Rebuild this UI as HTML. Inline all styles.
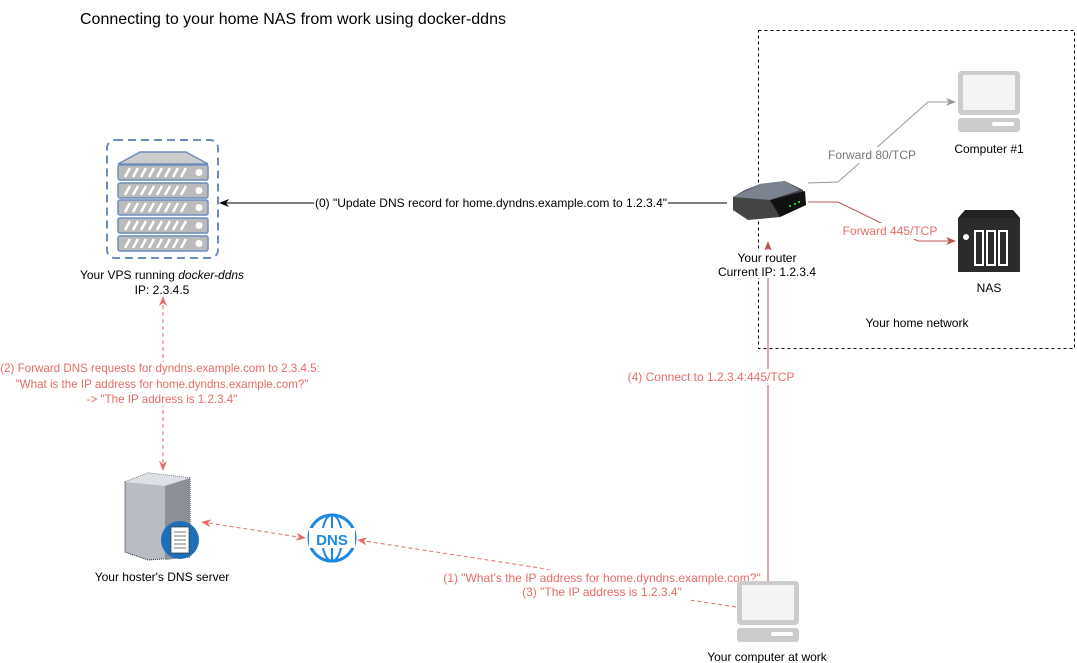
<!DOCTYPE html>
<html><head><meta charset="utf-8"><style>
html,body{margin:0;padding:0;background:#fff;}
svg{display:block;font-family:"Liberation Sans",Arial,sans-serif;}
</style></head><body>
<svg width="1077" height="663" viewBox="0 0 1077 663" xmlns="http://www.w3.org/2000/svg">
<defs>
<marker id="ab" markerWidth="10" markerHeight="10" refX="9" refY="5" orient="auto" markerUnits="userSpaceOnUse"><path d="M0,1 L10,5 L0,9 L3,5 Z" fill="#000"/></marker>
<marker id="ag" markerWidth="10" markerHeight="10" refX="9" refY="5" orient="auto" markerUnits="userSpaceOnUse"><path d="M0,1 L10,5 L0,9 L3,5 Z" fill="#999"/></marker>
<marker id="ar" markerWidth="10" markerHeight="10" refX="9" refY="5" orient="auto" markerUnits="userSpaceOnUse"><path d="M0,1 L10,5 L0,9 L3,5 Z" fill="#b85450"/></marker>
<marker id="ap" markerWidth="10" markerHeight="10" refX="9" refY="5" orient="auto" markerUnits="userSpaceOnUse"><path d="M0,1 L10,5 L0,9 L3,5 Z" fill="#EA6B66"/></marker>
<marker id="aps" markerWidth="10" markerHeight="10" refX="1" refY="5" orient="auto" markerUnits="userSpaceOnUse"><path d="M10,1 L0,5 L10,9 L7,5 Z" fill="#EA6B66"/></marker>
</defs>
<text x="80" y="24" font-size="16">Connecting to your home NAS from work using docker-ddns</text>
<rect x="758.5" y="30.5" width="316" height="318" fill="none" stroke="#000" stroke-dasharray="3,3"/>
<text x="917" y="327" font-size="12" text-anchor="middle">Your home network</text>

<!-- VPS -->
<rect x="107" y="140" width="111" height="118" rx="8" fill="none" stroke="#6c8ebf" stroke-width="2" stroke-dasharray="8,5"/>
<path d="M118,164 L140,152 L186,152 L208,164 Z" fill="#ccc" stroke="#6c8ebf" stroke-width="1.5"/>
<g fill="#bbb" stroke="#6c8ebf" stroke-width="1.5">
<rect x="118" y="165" width="90" height="15" rx="2"/>
<rect x="118" y="183" width="90" height="15" rx="2"/>
<rect x="118" y="200" width="90" height="15" rx="2"/>
<rect x="118" y="218" width="90" height="15" rx="2"/>
<rect x="118" y="236" width="90" height="15" rx="2"/>
</g>
<g stroke="#fff" stroke-width="2.5">
<path d="M125,177l5,-9M133,177l5,-9M141,177l5,-9M149,177l5,-9M157,177l5,-9M165,177l5,-9M173,177l5,-9M181,177l5,-9"/>
<path d="M125,195l5,-9M133,195l5,-9M141,195l5,-9M149,195l5,-9M157,195l5,-9M165,195l5,-9M173,195l5,-9M181,195l5,-9"/>
<path d="M125,212l5,-9M133,212l5,-9M141,212l5,-9M149,212l5,-9M157,212l5,-9M165,212l5,-9M173,212l5,-9M181,212l5,-9"/>
<path d="M125,230l5,-9M133,230l5,-9M141,230l5,-9M149,230l5,-9M157,230l5,-9M165,230l5,-9M173,230l5,-9M181,230l5,-9"/>
<path d="M125,248l5,-9M133,248l5,-9M141,248l5,-9M149,248l5,-9M157,248l5,-9M165,248l5,-9M173,248l5,-9M181,248l5,-9"/>
</g>
<g fill="#fff"><circle cx="199" cy="172.5" r="3.5"/><circle cx="199" cy="190.5" r="3.5"/><circle cx="199" cy="207.5" r="3.5"/><circle cx="199" cy="225.5" r="3.5"/><circle cx="199" cy="243.5" r="3.5"/></g>
<text x="162" y="279" font-size="12" text-anchor="middle">Your VPS running <tspan font-style="italic">docker-ddns</tspan></text>
<text x="162" y="294" font-size="12" text-anchor="middle">IP: 2.3.4.5</text>

<!-- arrow 0 -->
<line x1="727" y1="203" x2="220" y2="203" stroke="#000" marker-end="url(#ab)"/>
<rect x="314" y="195" width="354" height="16" fill="#fff"/>
<text x="491" y="207" font-size="12" text-anchor="middle">(0) "Update DNS record for home.dyndns.example.com to 1.2.3.4"</text>

<!-- connect 4 -->
<line x1="768" y1="598" x2="768" y2="242" stroke="#b85450" marker-end="url(#ar)"/>
<rect x="624" y="369" width="176" height="16" fill="#fff"/>
<text x="711" y="381" font-size="12" fill="#EA6B66" text-anchor="middle">(4) Connect to 1.2.3.4:445/TCP</text>

<!-- router -->
<path d="M733,197 L745,190 L760,184 L785,181 L803,190 L806,205 L780,217 L748,220 L733,210 Z" fill="#444"/>
<path d="M733,197 L760,184 L785,181 L800,190 L770,200 Z" fill="#7a8290"/>
<path d="M770,200 L805,191 L806,205 L780,217 Z" fill="#111"/>
<circle cx="790" cy="206" r="1" fill="#3f3"/><circle cx="795" cy="204" r="1" fill="#3f3"/><circle cx="799" cy="202" r="1" fill="#3f3"/>
<rect x="716" y="250" width="102" height="28" fill="#fff"/>
<text x="767" y="262" font-size="12" text-anchor="middle">Your router</text>
<text x="767" y="276" font-size="12" text-anchor="middle">Current IP: 1.2.3.4</text>

<!-- forward 80 -->
<polyline points="808,183 838,182 928,102 955,102" fill="none" stroke="#999" marker-end="url(#ag)"/>
<rect x="826" y="147" width="92" height="16" fill="#fff"/>
<text x="872" y="159" font-size="12" fill="#777" text-anchor="middle">Forward 80/TCP</text>
<!-- computer 1 -->
<rect x="958" y="71" width="62" height="44" rx="4" fill="#ccc"/>
<rect x="963" y="75" width="52" height="35" fill="#f4f4f4"/>
<rect x="958" y="118" width="62" height="14" rx="3" fill="#ccc"/>
<rect x="992" y="122" width="22" height="4" rx="2" fill="#fff"/>
<text x="989" y="153" font-size="12" text-anchor="middle">Computer #1</text>

<!-- forward 445 -->
<polyline points="808,202 838,202 918,241 955,241" fill="none" stroke="#b85450" marker-end="url(#ar)"/>
<rect x="842" y="223" width="96" height="16" fill="#fff"/>
<text x="890" y="235" font-size="12" fill="#EA6B66" text-anchor="middle">Forward 445/TCP</text>
<!-- NAS -->
<path d="M965,210 L1013,210 L1020,218 L1020,272 L958,272 L958,218 Z" fill="#222"/>
<rect x="958" y="218" width="62" height="54" fill="#2b2b2b"/>
<circle cx="966" cy="237" r="3" fill="#fff"/>
<g fill="none" stroke="#fff" stroke-width="2"><rect x="975" y="231" width="8" height="34"/><rect x="987" y="231" width="8" height="34"/><rect x="999" y="231" width="8" height="34"/></g>
<text x="989" y="292" font-size="12" text-anchor="middle">NAS</text>

<!-- vertical dashed 2 -->
<line x1="163" y1="470" x2="163" y2="297" stroke="#EA6B66" stroke-dasharray="4,3" marker-end="url(#ap)" marker-start="url(#aps)"/>
<rect x="0" y="362" width="325" height="44" fill="#fff"/>
<text x="160" y="372" font-size="11.6" fill="#EA6B66" text-anchor="middle">(2) Forward DNS requests for dyndns.example.com to 2.3.4.5:</text>
<text x="162" y="388" font-size="11.6" fill="#EA6B66" text-anchor="middle">"What is the IP address for home.dyndns.example.com?"</text>
<text x="162" y="403" font-size="11.6" fill="#EA6B66" text-anchor="middle">-&gt; "The IP address is 1.2.3.4"</text>

<!-- DNS server -->
<path d="M125,482 L148,473 L190,478 L190,557 L148,560 L125,552 Z" fill="#b8bcc4" stroke="#222" stroke-dasharray="1,1"/>
<path d="M125,482 L148,473 L190,478 L165,486 Z" fill="#dde0e5"/>
<path d="M165,486 L190,478 L190,557 L165,560 Z" fill="#8c9099"/>
<circle cx="180" cy="540" r="19" fill="#1f6fb8"/>
<rect x="171" y="527" width="18" height="26" fill="#fff" stroke="#333" stroke-width="0.7"/>
<g stroke="#555" stroke-width="0.8"><line x1="174" y1="532" x2="186" y2="532"/><line x1="174" y1="536" x2="186" y2="536"/><line x1="174" y1="540" x2="186" y2="540"/><line x1="174" y1="544" x2="186" y2="544"/><line x1="174" y1="548" x2="186" y2="548"/></g>
<text x="162" y="581" font-size="12" text-anchor="middle">Your hoster's DNS server</text>

<line x1="202" y1="522" x2="305" y2="538" stroke="#EA6B66" stroke-dasharray="4,3" marker-end="url(#ap)" marker-start="url(#aps)"/>
<!-- DNS globe -->
<circle cx="332" cy="538" r="23" fill="#fff" stroke="#1e88e5" stroke-width="3"/>
<ellipse cx="332" cy="538" rx="10" ry="23" fill="none" stroke="#1e88e5" stroke-width="2"/>
<line x1="332" y1="515" x2="332" y2="561" stroke="#1e88e5" stroke-width="2"/>
<rect x="309" y="528" width="46" height="20" fill="#fff"/>
<text x="332" y="545" font-size="15" font-weight="bold" fill="#1e88e5" text-anchor="middle">DNS</text>

<polyline points="736,607 690,600 540,568 358,540" fill="none" stroke="#EA6B66" stroke-dasharray="4,3" marker-end="url(#ap)"/>
<rect x="440" y="570" width="320" height="30" fill="#fff"/>
<text x="602" y="582" font-size="12" fill="#EA6B66" text-anchor="middle">(1) "What's the IP address for home.dyndns.example.com?"</text>
<text x="602" y="596" font-size="12" fill="#EA6B66" text-anchor="middle">(3) "The IP address is 1.2.3.4"</text>

<!-- computer at work -->
<rect x="737" y="581" width="62" height="44" rx="4" fill="#ccc"/>
<rect x="742" y="585" width="52" height="35" fill="#f4f4f4"/>
<rect x="737" y="628" width="62" height="14" rx="3" fill="#ccc"/>
<rect x="771" y="632" width="22" height="4" rx="2" fill="#fff"/>
<text x="767" y="661" font-size="12" text-anchor="middle">Your computer at work</text>
</svg>
</body></html>
